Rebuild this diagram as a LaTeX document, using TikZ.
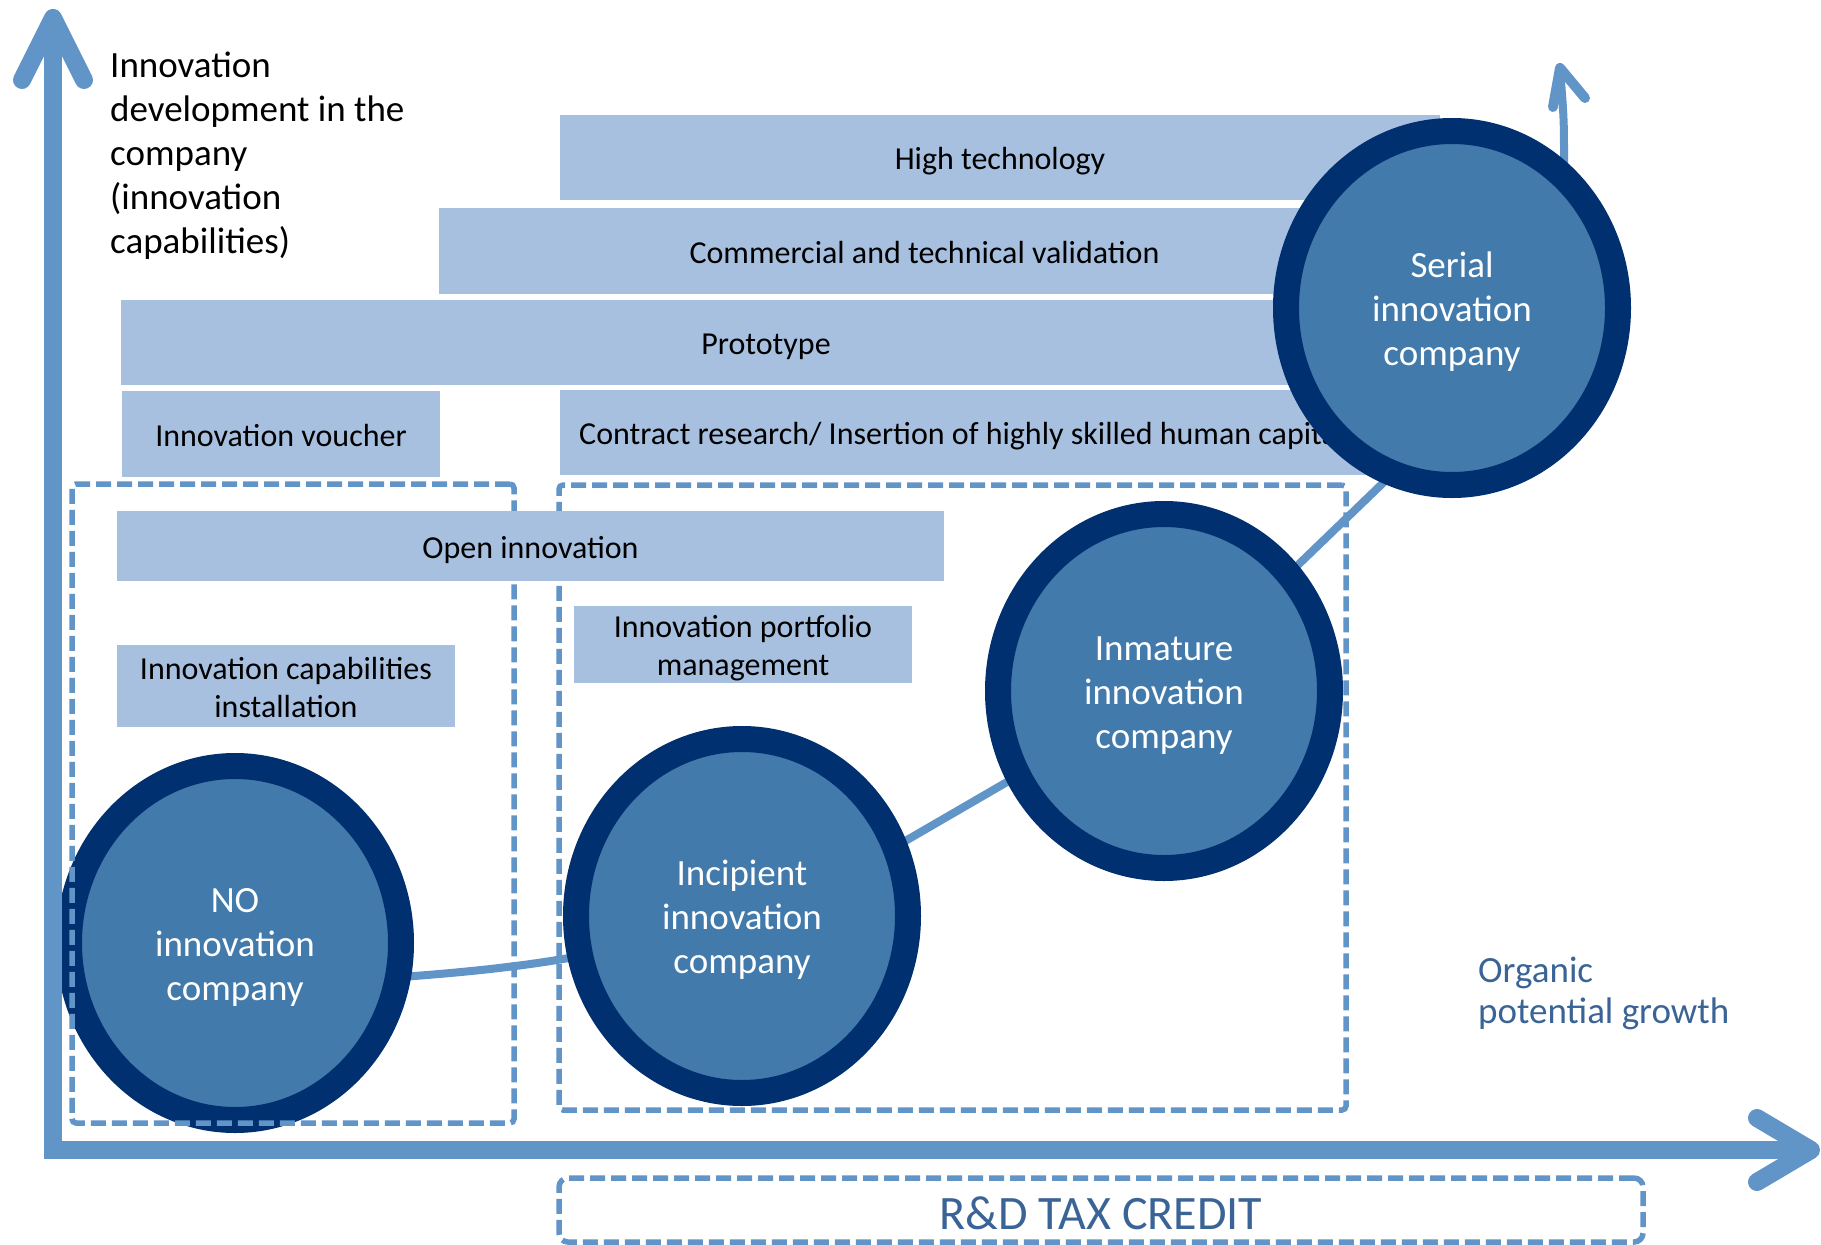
\documentclass[tikz,border=0pt]{standalone}
\usepackage{fontspec}
\setmainfont{Carlito}
\usetikzlibrary{shapes.geometric}
\definecolor{axisblue}{HTML}{6195C8}
\definecolor{barblue}{HTML}{A7C0DF}
\definecolor{ringnavy}{HTML}{003070}
\definecolor{firmfill}{HTML}{417AAB}
\definecolor{labelblue}{HTML}{3A6496}
\newcommand\setfs[2]{\fontsize{#1}{#2}\selectfont}

\begin{document}
\begin{tikzpicture}[x=1pt,y=-1pt,
  axisline/.style={draw=axisblue, line width=18pt, line join=miter},
  axishead/.style={draw=axisblue, line width=18pt, line cap=round, line join=round},
  growth/.style={draw=axisblue, line width=8pt},
  growthhead/.style={draw=axisblue, line width=10pt, line cap=round, line join=round},
  bar/.style={fill=barblue, inner sep=0pt, outer sep=0pt, anchor=north west,
    font=\setfs{32}{38}, text height=24pt, text depth=0pt},
  bartext/.style={font=\setfs{32}{38}, inner sep=0pt, align=center},
  firm/.style={ellipse, draw=ringnavy, fill=firmfill, line width=26pt,
    minimum width=332pt, minimum height=354pt, inner sep=0pt},
  firmtext/.style={text=white, font=\setfs{37}{44}, align=center, inner sep=0pt},
  group/.style={draw=axisblue, line width=5.5pt, dash pattern=on 15pt off 6pt,
    rounded corners=4pt, inner sep=0pt, outer sep=0pt, anchor=north west},
  note/.style={font=\setfs{37}{44}, inner sep=0pt, align=left},
]
\useasboundingbox[fill=white] (0,0) rectangle (1821,1245);

% growth curve running behind the company stages
\coordinate (g0) at (300,983);
\coordinate (g1) at (600,952);
\coordinate (g2) at (907,840);
\coordinate (g3) at (1007,782);
\coordinate (g4) at (1300,563);
\coordinate (g5) at (1383,483);
\coordinate (g6) at (1564,160);
\coordinate (gtip) at (1560,68);
\coordinate (gl) at (1553,107);
\coordinate (gr) at (1585,98);
\draw[growth] (g0) .. controls (420,977) and (520,969) .. (g1)
  .. controls (700,930) and (830,880) .. (g2) -- (g3)
  .. controls (1107,724) and (1217,643) .. (g4) -- (g5)
  .. controls (1480,390) and (1565,260) .. (g6)
  .. controls (1564,120) .. (gtip);
\draw[growthhead] (gl) -- (gtip) -- (gr);

% company stages (multi-line text is anchored on its last baseline)
\node[firm] (no) at (235,943) {};
\node[firm] (inc) at (742,916) {};
\node[firm] (inm) at (1164,691) {};
\node[firmtext, anchor=base] (notxt) at (235,1000) {NO\\innovation\\company};
\node[firmtext, anchor=base] (inctxt) at (742,973) {Incipient\\innovation\\company};
\node[firmtext, anchor=base] (inmtxt) at (1164,748) {Inmature\\innovation\\company};

% dashed groups
\node[group, minimum width=442pt, minimum height=639pt] (grp1) at (72,484) {};
\node[group, minimum width=787pt, minimum height=625pt] (grp2) at (559,485) {};

% instrument bars
\node[bar, minimum width=880pt, minimum height=85pt] (hightech) at (560,115) {High technology};
\node[bar, minimum width=971pt, minimum height=86pt] (valid) at (439,208) {Commercial and technical validation};
\node[bar, minimum width=1290pt, minimum height=85pt] (proto) at (121,300) {Prototype};
\node[bar, minimum width=318pt, minimum height=86pt] (voucher) at (122,391) {Innovation voucher};
\node[bar, minimum width=880pt, minimum height=85pt] (contract) at (560,390) {};
\node[bartext, anchor=base west] (contracttxt) at (579,444) {Contract research/ Insertion of highly skilled human capital};
\node[bar, minimum width=827pt, minimum height=70pt] (open) at (117,511) {Open innovation};
\node[bar, minimum width=338pt, minimum height=82pt] (capab) at (117,645) {};
\node[bartext, anchor=base] (capabtxt) at (286,717) {Innovation capabilities\\installation};
\node[bar, minimum width=338pt, minimum height=77pt] (portf) at (574,606) {};
\node[bartext, anchor=base] (portftxt) at (743,675) {Innovation portfolio\\management};

% final stage sits over the bars
\node[firm] (ser) at (1452,308) {};
\node[firmtext, anchor=base] (sertxt) at (1452,365) {Serial\\innovation\\company};

% axes
\coordinate (ytip) at (53,18);
\coordinate (origin) at (53,1150);
\coordinate (xtip) at (1811,1150);
\coordinate (yl) at (22,80);
\coordinate (yr) at (84,80);
\coordinate (xu) at (1757,1118);
\coordinate (xd) at (1757,1182);
\draw[axisline] ([yshift=-12pt]ytip) -- (origin) -- ([xshift=-12pt]xtip);
\draw[axishead] (yl) -- (ytip) -- (yr);
\draw[axishead] (xu) -- (xtip) -- (xd);

% axis captions
\node[note, anchor=base west] (ylabel) at (110,253)
  {Innovation\\development in the\\company\\(innovation\\capabilities)};
\node[note, anchor=base west, text=labelblue, font=\setfs{37}{41}] (xlabel) at (1478,1023)
  {Organic\\potential growth};

% tax credit frame
\node[group, minimum width=1084pt, minimum height=64pt, rounded corners=9pt] (tax) at (559,1178) {};
\node[inner sep=0pt, anchor=base, text=labelblue, font=\setfs{48}{56}] (taxtxt) at (1101,1229) {R\&D TAX CREDIT};
\end{tikzpicture}
\end{document}
